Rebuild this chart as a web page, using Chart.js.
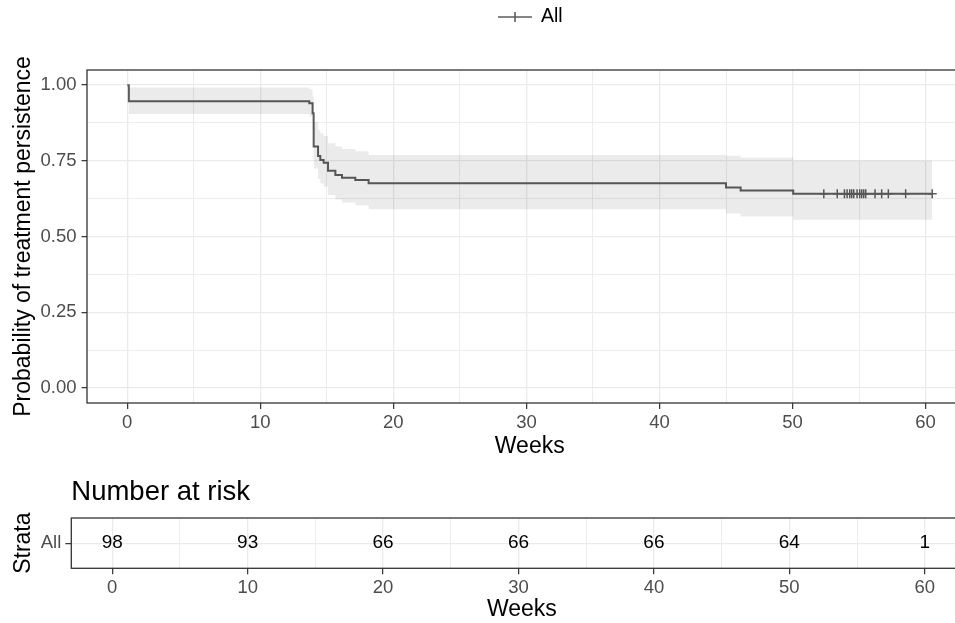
<!DOCTYPE html>
<html>
<head>
<meta charset="utf-8">
<script src="https://cdn.jsdelivr.net/npm/chart.js@4.4.1/dist/chart.umd.min.js"></script>
<style>
  html, body { margin:0; padding:0; background:#fff; }
  #wrap { position:relative; width:955px; height:623px; overflow:hidden; }
  #wrap canvas { position:absolute; left:0; }
  #kmChart { top:0; }
  #riskChart { top:460px; }
</style>
</head>
<body>
<div id="wrap">
  <canvas id="kmChart" width="980" height="460"></canvas>
  <canvas id="riskChart" width="980" height="163"></canvas>
</div>
<script>
// Kaplan-Meier curve, weeks vs persistence probability
const kmWeeks  = [0, 0.12, 13.68, 13.93, 14.01, 14.34, 14.51, 14.76, 15.09, 15.64, 16.14, 17.14, 18.14, 45.0, 46.1, 50.05, 60.5];
const kmSurv   = [1.0, 0.947, 0.940, 0.907, 0.797, 0.766, 0.753, 0.744, 0.717, 0.703, 0.694, 0.687, 0.676, 0.662, 0.652, 0.641, 0.641];
const ciLower  = [1.0, 0.905, 0.897, 0.855, 0.725, 0.690, 0.676, 0.665, 0.637, 0.622, 0.612, 0.603, 0.590, 0.576, 0.566, 0.555, 0.555];
const ciUpper  = [1.0, 0.992, 0.986, 0.963, 0.877, 0.851, 0.840, 0.832, 0.808, 0.797, 0.789, 0.782, 0.769, 0.767, 0.760, 0.751, 0.751];
const censorWeeks = [52.35, 53.36, 53.9, 54.1, 54.3, 54.45, 54.6, 54.85, 55.05, 55.2, 55.35, 55.5, 56.2, 56.7, 57.2, 58.5, 60.5];

// number at risk table
const riskStrata = ['All'];
const riskWeeks  = [0, 10, 20, 30, 40, 50, 60];
const riskCounts = [98, 93, 66, 66, 66, 64, 1];

// axis ticks
const weekTicks = [0, 10, 20, 30, 40, 50, 60];
const probTicks = [0, 0.25, 0.5, 0.75, 1];

const FONT = '"Liberation Sans", Arial, Helvetica, sans-serif';
const LINE_COLOR = '#5e5e5e';
const GRID = '#ebebeb';
const X_MIN = -3.025, X_MAX = 63.525;

function survivalAt(t){
  let s = kmSurv[0];
  for (let i = 0; i < kmWeeks.length; i++) if (kmWeeks[i] <= t) s = kmSurv[i];
  return s;
}
const pts = (xs, ys) => xs.map((x, i) => ({x, y: ys[i]}));

// major ticks + minor (half-way) grid lines, like ggplot
const weekGrid = [];
weekTicks.forEach(v => { weekGrid.push(v); if (v + 5 < X_MAX) weekGrid.push(v + 5); });
const probGrid = [];
probTicks.forEach((v, i) => { probGrid.push(v); if (i < probTicks.length - 1) probGrid.push((v + probTicks[i+1]) / 2); });
const isWeekMajor = v => weekTicks.includes(v);
const isProbMajor = v => probTicks.some(p => Math.abs(p - v) < 1e-9);

const frame = {
  id: 'frame',
  afterDatasetsDraw(chart){
    const {ctx, chartArea: a} = chart;
    ctx.save();
    ctx.strokeStyle = '#333';
    ctx.lineWidth = 1.3;
    ctx.strokeRect(a.left, a.top, a.right - a.left, a.bottom - a.top);
    ctx.restore();
  }
};

const kmLegend = {
  id: 'kmLegend',
  afterDraw(chart){
    const ctx = chart.ctx;
    const y = 17, x0 = 498, x1 = 532;
    ctx.save();
    ctx.strokeStyle = LINE_COLOR;
    ctx.lineWidth = 1.6;
    ctx.beginPath();
    ctx.moveTo(x0, y); ctx.lineTo(x1, y);
    ctx.moveTo((x0 + x1) / 2, y - 5); ctx.lineTo((x0 + x1) / 2, y + 5);
    ctx.stroke();
    ctx.fillStyle = '#000';
    ctx.font = '19.5px ' + FONT;
    ctx.textAlign = 'left';
    ctx.textBaseline = 'middle';
    ctx.fillText(chart.data.datasets[2].label, 541, y);
    ctx.restore();
  }
};

const riskLabels = {
  id: 'riskLabels',
  afterDatasetsDraw(chart){
    const ctx = chart.ctx;
    const meta = chart.getDatasetMeta(0);
    ctx.save();
    ctx.fillStyle = '#000';
    ctx.font = '19px ' + FONT;
    ctx.textAlign = 'center';
    ctx.textBaseline = 'middle';
    meta.data.forEach((p, i) => ctx.fillText(String(riskCounts[i]), p.x, p.y));
    ctx.restore();
  }
};

function weekAxis(height){
  return {
    type: 'linear', min: X_MIN, max: X_MAX,
    afterBuildTicks: s => { s.ticks = weekGrid.map(v => ({value: v})); },
    afterFit: s => { s.height = height; },
    border: {display: false},
    grid: {
      color: GRID,
      lineWidth: c => isWeekMajor(c.tick.value) ? 1.3 : 0.9,
      tickColor: c => isWeekMajor(c.tick.value) ? '#333' : 'rgba(0,0,0,0)',
      tickLength: 6, tickWidth: 1.2
    },
    ticks: {
      autoSkip: false, maxRotation: 0, padding: 3, color: '#4d4d4d',
      font: {family: FONT, size: 18.5},
      callback: v => isWeekMajor(v) ? String(v) : ''
    },
    title: {display: true, text: 'Weeks', color: '#000', font: {family: FONT, size: 23}, padding: {top: 0, bottom: 0}}
  };
}

Chart.defaults.font.family = FONT;

new Chart(document.getElementById('kmChart'), {
  type: 'line',
  data: {
    datasets: [
      {label: 'lower', data: pts(kmWeeks, ciLower), stepped: 'before', borderColor: 'rgba(0,0,0,0)', borderWidth: 1, pointRadius: 0, fill: false},
      {label: 'upper', data: pts(kmWeeks, ciUpper), stepped: 'before', borderColor: 'rgba(0,0,0,0)', borderWidth: 1, pointRadius: 0, fill: '-1', backgroundColor: 'rgba(0,0,0,0.08)'},
      {label: 'All', data: pts(kmWeeks, kmSurv), stepped: 'before', borderColor: LINE_COLOR, borderWidth: 2, pointRadius: 0, fill: false},
      {label: 'censored', data: censorWeeks.map(t => ({x: t, y: survivalAt(t)})), showLine: false, pointStyle: 'cross',
       pointRadius: 4.5, pointBorderWidth: 1.5, pointBorderColor: LINE_COLOR, borderColor: LINE_COLOR, fill: false}
    ]
  },
  options: {
    responsive: false, animation: false,
    layout: {padding: {top: 70, right: 7.5, left: 0, bottom: 0}},
    plugins: {legend: {display: false}, tooltip: {enabled: false}},
    scales: {
      x: weekAxis(57),
      y: {
        type: 'linear', min: -0.05, max: 1.05,
        afterBuildTicks: s => { s.ticks = probGrid.map(v => ({value: v})); },
        afterFit: s => { s.width = 87; },
        border: {display: false},
        grid: {
          color: GRID,
          lineWidth: c => isProbMajor(c.tick.value) ? 1.3 : 0.9,
          tickColor: c => isProbMajor(c.tick.value) ? '#333' : 'rgba(0,0,0,0)',
          tickLength: 5.5, tickWidth: 1.2
        },
        ticks: {
          autoSkip: false, padding: 5, color: '#4d4d4d',
          font: {family: FONT, size: 18.5},
          callback: v => isProbMajor(v) ? v.toFixed(2) : ''
        },
        title: {display: true, text: 'Probability of treatment persistence', color: '#000', font: {family: FONT, size: 23}, padding: {top: 10, bottom: 0}}
      }
    }
  },
  plugins: [frame, kmLegend]
});

new Chart(document.getElementById('riskChart'), {
  type: 'scatter',
  data: {
    datasets: [{label: riskStrata[0], data: riskWeeks.map(w => ({x: w, y: riskStrata[0]})), pointRadius: 0}]
  },
  options: {
    responsive: false, animation: false,
    layout: {padding: {top: 0, right: 7.5, left: 0, bottom: 0}},
    plugins: {
      legend: {display: false}, tooltip: {enabled: false},
      title: {display: true, text: 'Number at risk', align: 'start', fullSize: false, color: '#000',
              font: {family: FONT, size: 27.5, weight: 'normal'}, padding: {top: 16, bottom: 9}}
    },
    scales: {
      x: weekAxis(54.7),
      y: {
        type: 'category', labels: riskStrata, offset: true,
        afterFit: s => { s.width = 71.3; },
        border: {display: false},
        grid: {offset: false, color: GRID, lineWidth: 1.3, tickColor: '#333', tickLength: 6, tickWidth: 1.2},
        ticks: {padding: 4, color: '#4d4d4d', font: {family: FONT, size: 18.5}},
        title: {display: true, text: 'Strata', color: '#000', font: {family: FONT, size: 23}, padding: {top: 10, bottom: 0}}
      }
    }
  },
  plugins: [frame, riskLabels]
});
</script>
</body>
</html>
